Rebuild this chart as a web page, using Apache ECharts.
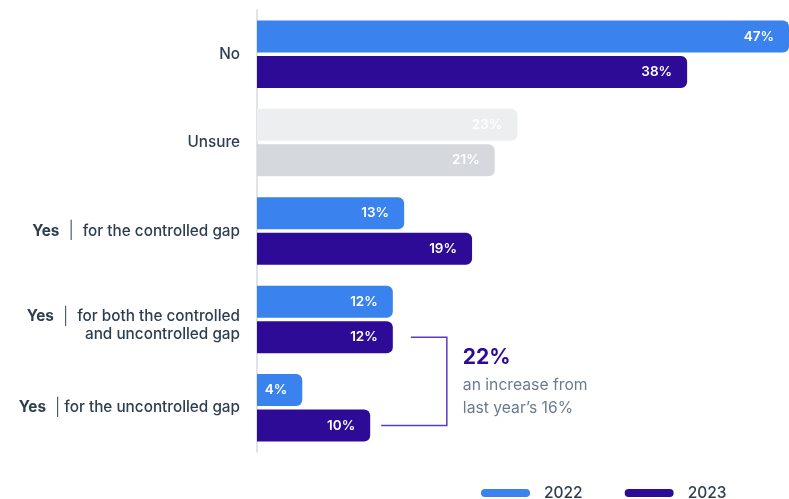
<!DOCTYPE html>
<html>
<head>
<meta charset="utf-8">
<script src="https://cdn.jsdelivr.net/npm/echarts@6/dist/echarts.min.js"></script>
<style>
  html, body { margin: 0; padding: 0; background: #fff; }
  #chart { width: 789px; height: 499px; }
</style>
</head>
<body>
<div id="chart"></div>
<script>
// Survey answers, top to bottom
const categories = [
  'No',
  'Unsure',
  'Yes | for the controlled gap',
  'Yes | for both the controlled\nand uncontrolled gap',
  'Yes |for the uncontrolled gap'
];
const years = ['2022', '2023'];
const values2022 = [47, 23, 13, 12, 4];
const values2023 = [38, 21, 19, 12, 10];

// Callout on the "Yes" answers covering the uncontrolled gap
const calloutValue = '22%';
const calloutLines = ['an increase from', 'last year\u2019s 16%'];

const FONT = 'Inter, "Noto Sans", sans-serif';
const INK = '#2d3e50';
const COLOR_2022 = '#3a82ee';
const COLOR_2023 = '#2e0b96';
const MUTED_2022 = '#edeef0';
const MUTED_2023 = '#d5d9dd';
const MUTED_CATEGORY = 'Unsure';
const BAR_W = 32;
const BAR_GAP = 3.5;

function seriesData(values, base, muted) {
  return values.map((v, i) => ({
    value: v,
    itemStyle: { color: categories[i] === MUTED_CATEGORY ? muted : base }
  }));
}

// Two-line labels sit a little low, under their first line
const axisCategories = categories.map(c =>
  c.indexOf('\n') >= 0 ? { value: c, textStyle: { padding: [12, 0, 0, 0] } } : c
);

// "Yes | detail" -> bold "Yes", thin divider, then the detail text
function formatCategory(v) {
  const idx = v.indexOf('|');
  if (idx < 0) return v;
  const head = v.slice(0, idx).trim();
  const rest = v.slice(idx + 1);
  const divider = rest.charAt(0) === ' ' ? 's' : 't';
  return '{b|' + head + '}{' + divider + '||}' + rest.replace(/^ /, '');
}

const chart = echarts.init(document.getElementById('chart'));

const labelStyle = {
  show: true,
  position: 'insideRight',
  distance: 15,
  formatter: p => p.value + '%',
  color: '#ffffff',
  fontFamily: FONT,
  fontWeight: 600,
  fontSize: 13.5
};

chart.setOption({
  animation: false,
  backgroundColor: '#ffffff',
  grid: { left: 257, right: 0, top: 10, bottom: 47, containLabel: false },
  legend: {
    data: years,
    left: 476,
    top: 480,
    itemWidth: 49,
    itemHeight: 8,
    itemGap: 42,
    icon: 'path://M4,0 H45 A4,4 0 0 1 45,8 H4 A4,4 0 0 1 4,0 Z',
    textStyle: { color: INK, fontFamily: FONT, fontSize: 15.5, fontWeight: 500, padding: [0, 0, 0, 9] }
  },
  xAxis: {
    type: 'value',
    min: 0,
    max: 47,
    show: false,
    splitLine: { show: false }
  },
  yAxis: {
    type: 'category',
    inverse: true,
    data: axisCategories,
    axisLine: { lineStyle: { color: '#d6dbe1', width: 1.5 } },
    axisTick: { inside: true, length: 5, lineStyle: { color: '#d6dbe1', width: 1 } },
    axisLabel: {
      margin: 17,
      color: INK,
      fontFamily: FONT,
      fontSize: 15.3,
      fontWeight: 500,
      lineHeight: 18,
      align: 'right',
      formatter: formatCategory,
      rich: {
        b: { fontFamily: FONT, fontSize: 15.3, fontWeight: 700, color: INK, lineHeight: 18 },
        s: { fontFamily: FONT, fontSize: 17, fontWeight: 300, color: INK, padding: [0, 9, 0, 9], lineHeight: 18 },
        t: { fontFamily: FONT, fontSize: 17, fontWeight: 300, color: INK, padding: [0, 4, 0, 9], lineHeight: 18 }
      }
    }
  },
  series: [
    {
      name: years[0],
      type: 'bar',
      data: seriesData(values2022, COLOR_2022, MUTED_2022),
      barWidth: BAR_W,
      barGap: (BAR_GAP / BAR_W * 100) + '%',
      itemStyle: { color: COLOR_2022, borderRadius: [0, 6, 6, 0] },
      label: labelStyle
    },
    {
      name: years[1],
      type: 'bar',
      data: seriesData(values2023, COLOR_2023, MUTED_2023),
      barWidth: BAR_W,
      itemStyle: { color: COLOR_2023, borderRadius: [0, 6, 6, 0] },
      label: labelStyle
    }
  ]
});

// Bracket + callout text, placed from the chart's own scales
function drawCallout() {
  const iTop = 3, iBottom = 4;
  const offset = (BAR_W + BAR_GAP) / 2; // centre of the 2023 bar within its band
  const topPt = chart.convertToPixel({ gridIndex: 0 }, [values2023[iTop], iTop]);
  const botPt = chart.convertToPixel({ gridIndex: 0 }, [values2023[iBottom], iBottom]);
  const yTop = topPt[1] + offset;
  const yBot = botPt[1] + offset;
  const xTopStart = topPt[0] + 18;
  const xBotStart = botPt[0] + 11;
  const xRight = topPt[0] + 54;
  const xText = xRight + 16;

  chart.setOption({
    graphic: [
      {
        type: 'polyline',
        shape: { points: [[xTopStart, yTop], [xRight, yTop], [xRight, yBot], [xBotStart, yBot]] },
        style: { stroke: '#5a3cc0', lineWidth: 1.5, fill: null }
      },
      {
        type: 'text',
        x: xText, y: yTop + 21,
        style: { text: calloutValue, fill: COLOR_2023, font: '700 21px ' + FONT, textVerticalAlign: 'middle' }
      },
      {
        type: 'text',
        x: xText, y: yTop + 48,
        style: { text: calloutLines[0], fill: '#6b7b8f', font: '400 15.7px ' + FONT, textVerticalAlign: 'middle' }
      },
      {
        type: 'text',
        x: xText, y: yTop + 71,
        style: { text: calloutLines[1], fill: '#6b7b8f', font: '400 15.7px ' + FONT, textVerticalAlign: 'middle' }
      }
    ]
  });
}
drawCallout();
</script>
</body>
</html>
